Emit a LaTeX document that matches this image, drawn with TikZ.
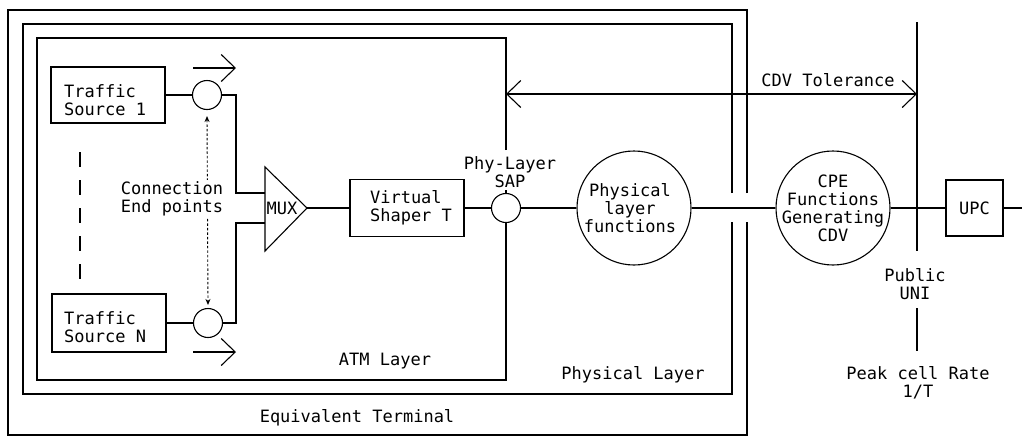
\documentclass[tikz,border=0pt]{standalone}
\usepackage{fontspec}
\setmonofont{DejaVu Sans Mono}
\usetikzlibrary{arrows.meta}
\tikzset{
  lbl/.style={font=\ttfamily\fontsize{17}{18}\selectfont, inner sep=0pt, align=center},
  lbll/.style={font=\ttfamily\fontsize{17}{18}\selectfont, inner sep=0pt, align=left},
  ln/.style={line width=1.1pt},
  rbox/.style={draw, line width=1.1pt, rectangle, inner sep=0pt},
  rcirc/.style={draw, line width=1.1pt, circle, inner sep=0pt},
  barb/.style={-{Straight Barb[length=14pt,width=27pt,line width=1.1pt]}},
  dbarb/.style={{Straight Barb[length=14pt,width=27pt,line width=1.1pt]}-{Straight Barb[length=14pt,width=27pt,line width=1.1pt]}},
}
\begin{document}
\begin{tikzpicture}[x=1pt,y=-1pt]
\useasboundingbox (0,0) rectangle (1022,437);
% outer boxes
\coordinate (etA) at (747,193); \coordinate (etB) at (747,222);
\coordinate (plA) at (732,193); \coordinate (plB) at (732,222);
\draw[ln] (etA) -- (747,10) -- (8,10) -- (8,435) -- (747,435) -- (etB);
\draw[ln] (plA) -- (732,24) -- (23,24) -- (23,394) -- (732,394) -- (plB);
% nodes
\node[rbox, minimum width=114pt, minimum height=56pt] (ts1) at (108,95) {};
\node[lbll, anchor=west] (ts1t) at (64,100) {Traffic\\Source 1};
\node[rbox, minimum width=114pt, minimum height=58pt] (tsN) at (109,323) {};
\node[lbll, anchor=west] (tsNt) at (64,327) {Traffic\\Source N};
\node[rcirc, minimum size=29pt] (c1) at (207,95) {};
\node[rcirc, minimum size=29pt] (cN) at (208,323) {};
\coordinate (muxA) at (265,167); \coordinate (muxB) at (265,251); \coordinate (muxO) at (307,208);
\coordinate (muxI1) at (265,193); \coordinate (muxI2) at (265,223);
\draw[ln] (muxA) -- (muxO) -- (muxB) -- cycle;
\node[lbl] (muxt) at (282,208) {MUX};
\node[rbox, minimum width=114pt, minimum height=57pt] (vs) at (407,208) {};
\node[lbll] (vst) at (411,208) {Virtual\\Shaper T};
\node[rcirc, minimum size=29pt] (sap) at (506,208) {};
\node[lbl] (sapt) at (510,172) {Phy-Layer\\SAP};
\node[rcirc, minimum size=114pt] (plf) at (634,208) {};
\node[lbl] (plft) at (630,208) {Physical\\layer\\functions};
\node[rcirc, minimum size=114pt] (cpe) at (833,208) {};
\node[lbl] (cpet) at (833,208) {CPE\\Functions\\Generating\\CDV};
\node[rbox, minimum width=57pt, minimum height=56pt] (upc) at (974.5,208) {};
\node[lbl] (upct) at (974.5,208) {UPC};
\coordinate (rend) at (1022,208);
% ATM layer box with SAP on right edge
\draw[ln] (506,150) -- (506,38) -- (37,38) -- (37,380) -- (506,380) -- (sap.south);
\draw[ln] (506,190) -- (sap.north);
% connections
\draw[ln] (ts1.east) -- (c1.west);
\draw[ln] (tsN.east |- cN.west) -- (cN.west);
\draw[ln] (c1.east) -- (236,95) -- (236,193) -- (muxI1);
\draw[ln] (cN.east) -- (236,323) -- (236,223) -- (muxI2);
\draw[ln] (muxO) -- (vs.west);
\draw[ln] (vs.east) -- (sap.west);
\draw[ln] (sap.east) -- (plf.west);
\draw[ln] (plf.east) -- (cpe.west);
\draw[ln] (cpe.east) -- (upc.west);
\draw[ln] (upc.east) -- (rend);
% direction arrows
\coordinate (a1s) at (193,68); \coordinate (a1e) at (236,68);
\coordinate (a2s) at (193,352); \coordinate (a2e) at (236,352);
\draw[ln, barb] (a1s) -- (a1e);
\draw[ln, barb] (a2s) -- (a2e);
% dashed ellipsis
\foreach \ya in {152,180,208,236,264}
  \draw[line width=1.1pt] (80,\ya) -- (80,\ya+15);
% dotted arrow & connection end points
\draw[line width=0.9pt, dash pattern=on 2.5pt off 2pt, {Stealth[length=6pt,width=5pt]}-{Stealth[length=6pt,width=5pt]}]
  ([yshift=-6pt]c1.south) -- ([yshift=3pt]cN.north);
\node[lbll, fill=white, inner sep=2pt] (cep) at (172,199) {Connection\\End points};
% Public UNI
\coordinate (uniT) at (917,22); \coordinate (uniA) at (917,251);
\coordinate (uniB) at (917,308); \coordinate (uniC) at (917,351);
\draw[ln] (uniT) -- (uniA);
\draw[ln] (uniB) -- (uniC);
\node[lbl] (unit) at (915,284) {Public\\UNI};
\node[lbl] (pcr) at (918,383) {Peak cell Rate\\1/T};
% CDV tolerance
\coordinate (cdvL) at (506,94); \coordinate (cdvR) at (917,94);
\draw[ln, dbarb] (cdvL) -- (cdvR);
\node[lbl] (cdvt) at (828,80) {CDV Tolerance};
% layer labels
\node[lbl] (atml) at (385,361) {ATM Layer};
\node[lbl] (phyl) at (633,375) {Physical Layer};
\node[lbl] (eqt) at (357,418) {Equivalent Terminal};
\end{tikzpicture}
\end{document}
